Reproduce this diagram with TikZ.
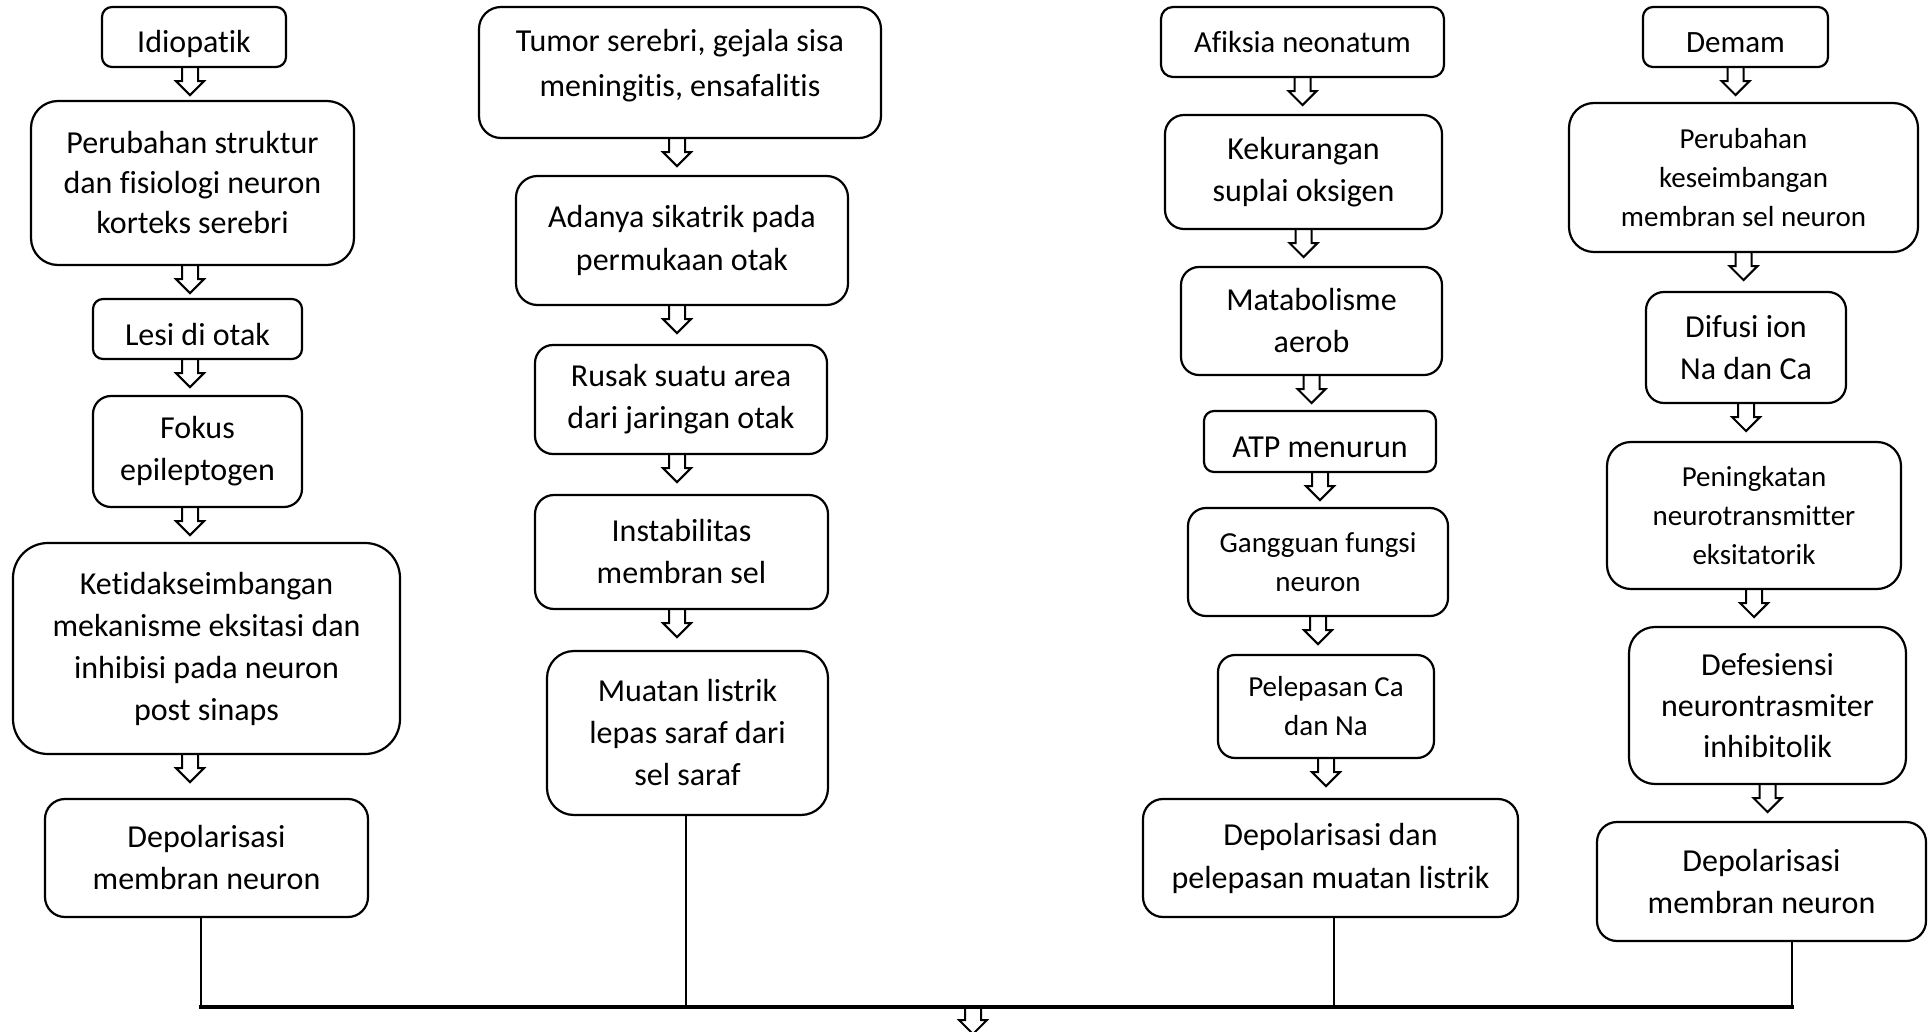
\documentclass[tikz,border=0pt]{standalone}
\usepackage{fontspec}
\setmainfont{Carlito}[Ligatures={NoCommon}]

\begin{document}
\begin{tikzpicture}[x=1pt,y=-1pt,
    box/.style n args={3}{draw, line width=1.1pt, align=center, inner sep=0pt,
      minimum width=#1pt, minimum height=#2pt, rounded corners=#3pt,
      font=\fontsize{16}{21}\selectfont},
    smalltext/.style={font=\fontsize{14.5}{19.5}\selectfont},
    oneline/.style={text height=16pt, text depth=0pt},
    link/.style={line width=1.25pt},
    hollow/.pic={\draw[line width=1pt, line join=miter]
      (-4,0) -- (-4,6.5) -- (-7,6.5) -- (0,13.5) -- (7,6.5) -- (4,6.5) -- (4,0);}]
      \useasboundingbox (0,0) rectangle (964,516);

      \node[box={92}{30}{5}, oneline] (idio) at (97,18.5) {Idiopatik};
      \node[box={161.5}{82}{13.5}, font=\fontsize{16}{20}\selectfont] (pstr) at (96.25,91.5) {Perubahan struktur\\dan fisiologi neuron\\korteks serebri};
      \node[box={104.5}{30}{5}, oneline] (lesi) at (98.75,164.5) {Lesi di otak};
      \node[box={104.5}{55.5}{9}] (fokus) at (98.75,225.75) {Fokus\\epileptogen};
      \node[box={193.5}{105.5}{17.5}] (ketidak) at (103.25,324.25) {Ketidakseimbangan\\mekanisme eksitasi dan\\inhibisi pada neuron\\post sinaps};
      \node[box={161.5}{59}{10}] (dep1) at (103.25,429) {Depolarisasi\\membran neuron};

      \node[box={201}{65.5}{11}, font=\fontsize{16}{22.5}\selectfont, text depth=10pt] (tumor) at (340,36.25) {Tumor serebri, gejala sisa\\meningitis, ensafalitis};
      \node[box={166}{64.5}{10.75}, font=\fontsize{16}{21.5}\selectfont] (adanya) at (341,120.25) {Adanya sikatrik pada\\permukaan otak};
      \node[box={146}{54.5}{9}] (rusak) at (340.5,199.75) {Rusak suatu area\\dari jaringan otak};
      \node[box={146.5}{57}{9.5}] (insta) at (340.75,276) {Instabilitas\\membran sel};
      \node[box={140.5}{82}{13.5}] (muatan) at (343.75,366.5) {Muatan listrik\\lepas saraf dari\\sel saraf};

      \node[box={141.5}{35}{6}, font=\fontsize{15.3}{19}\selectfont] (afiksia) at (651.25,21) {Afiksia neonatum};
      \node[box={138.5}{57}{9.5}] (kekur) at (651.75,86) {Kekurangan\\suplai oksigen};
      \node[box={130.5}{54}{9}] (matab) at (655.75,160.5) {Matabolisme\\aerob};
      \node[box={116}{30.5}{5}, oneline] (atp) at (660,220.75) {ATP menurun};
      \node[box={130}{54}{9}, smalltext] (gangg) at (659,281) {Gangguan fungsi\\neuron};
      \node[box={108}{51.5}{8.5}, smalltext] (pelep) at (663,353.25) {Pelepasan Ca\\dan Na};
      \node[box={187.5}{59}{10}, font=\fontsize{16}{21.5}\selectfont] (depdan) at (665.25,429) {Depolarisasi dan\\pelepasan muatan listrik};

      \node[box={92.5}{30}{5}, font=\fontsize{15.5}{19}\selectfont, oneline] (demam) at (867.75,18.5) {Demam};
      \node[box={174.5}{74.5}{12.5}, smalltext] (pkes) at (871.75,88.75) {Perubahan\\keseimbangan\\membran sel neuron};
      \node[box={100}{55.5}{9}] (difusi) at (873,173.75) {Difusi ion\\Na dan Ca};
      \node[box={147}{73.5}{12}, smalltext] (pening) at (877,257.75) {Peningkatan\\neurotransmitter\\eksitatorik};
      \node[box={138.5}{78.5}{13}, font=\fontsize{16}{20.4}\selectfont] (defes) at (883.75,352.75) {Defesiensi\\neurontrasmiter\\inhibitolik};
      \node[box={164.5}{59.5}{10}] (dep4) at (880.75,440.75) {Depolarisasi\\membran neuron};

      \coordinate (c1) at (95,0);
      \coordinate (c2) at (338.5,0);
      \foreach \a in {idio,pstr,lesi,fokus,ketidak}
        \pic at (\a.south -| c1) {hollow};
      \foreach \a in {tumor,adanya,rusak,insta}
        \pic at (\a.south -| c2) {hollow};
      \foreach \a in {afiksia,kekur,matab,atp,gangg,pelep,demam,pkes,difusi,pening,defes}
        \pic at (\a.south) {hollow};

      \coordinate (j1) at (100.5,503.5);
      \coordinate (j2) at (343,503.5);
      \coordinate (j3) at (667,503.5);
      \coordinate (j4) at (896,503.5);
      \coordinate (out) at (486.5,503.5);
      \draw[link] (dep1.south -| j1) -- (j1);
      \draw[link] (muatan.south -| j2) -- (j2);
      \draw[link] (depdan.south -| j3) -- (j3);
      \draw[link] (dep4.south -| j4) -- (j4);
      \draw[line width=1.8pt, line cap=rect] (j1) -- (j4);
      \pic at (out) {hollow};
    \end{tikzpicture}
\end{document}
